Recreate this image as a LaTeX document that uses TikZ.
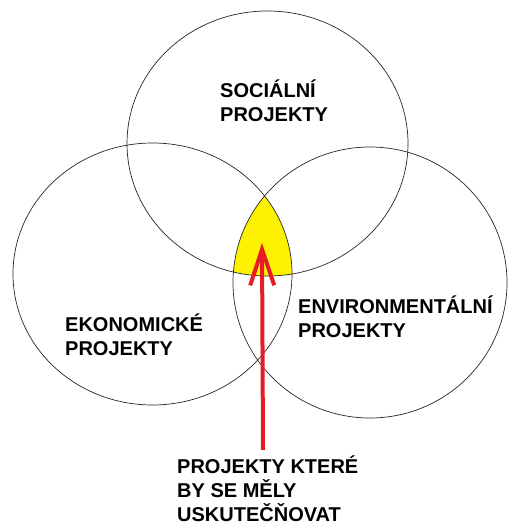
\documentclass[tikz,border=0pt]{standalone}
\usepackage{fontspec}
\setmainfont{Liberation Sans}
\usetikzlibrary{arrows.meta}
\definecolor{vennyellow}{RGB}{255,242,0}
\definecolor{arrowred}{RGB}{230,30,36}
\tikzset{
  venn/.style={draw=black!85, line width=0.7pt},
  lbl/.style={font=\bfseries\fontsize{20}{24}\selectfont, align=left, inner sep=0pt, anchor=base west},
  pointer/.style={draw=arrowred, line width=4pt, -{Straight Barb[length=36pt,width=24pt]}}
}
\begin{document}
\begin{tikzpicture}[x=1pt,y=-1pt]
\useasboundingbox (0,0) rectangle (507,526);
% yellow common region
\begin{scope}
  \clip (152.5,274) ellipse [x radius=139.5, y radius=131];
  \clip (370,282.5) ellipse [x radius=137, y radius=135.5];
  \fill[vennyellow] (267.5,143.5) ellipse [x radius=140.5, y radius=132.5];
\end{scope}
% circles
\draw[venn] (267.5,143.5) ellipse [x radius=140.5, y radius=132.5];
\draw[venn] (152.5,274) ellipse [x radius=139.5, y radius=131];
\draw[venn] (370,282.5) ellipse [x radius=137, y radius=135.5];
% labels (base anchor = baseline of the last line)
\node[lbl] (soc) at (220,122) {SOCIÁLNÍ\\PROJEKTY};
\node[lbl] (eko) at (65,355) {EKONOMICKÉ\\PROJEKTY};
\node[lbl] (env) at (298,337) {ENVIRONMENTÁLNÍ\\PROJEKTY};
\node[lbl] (goal) at (177,521) {PROJEKTY KTERÉ\\BY SE MĚLY\\USKUTEČŇOVAT};
% arrow
\coordinate (start) at (263,450);
\coordinate (tip) at (262,243);
\draw[pointer] (start) -- (tip);
\end{tikzpicture}
\end{document}
